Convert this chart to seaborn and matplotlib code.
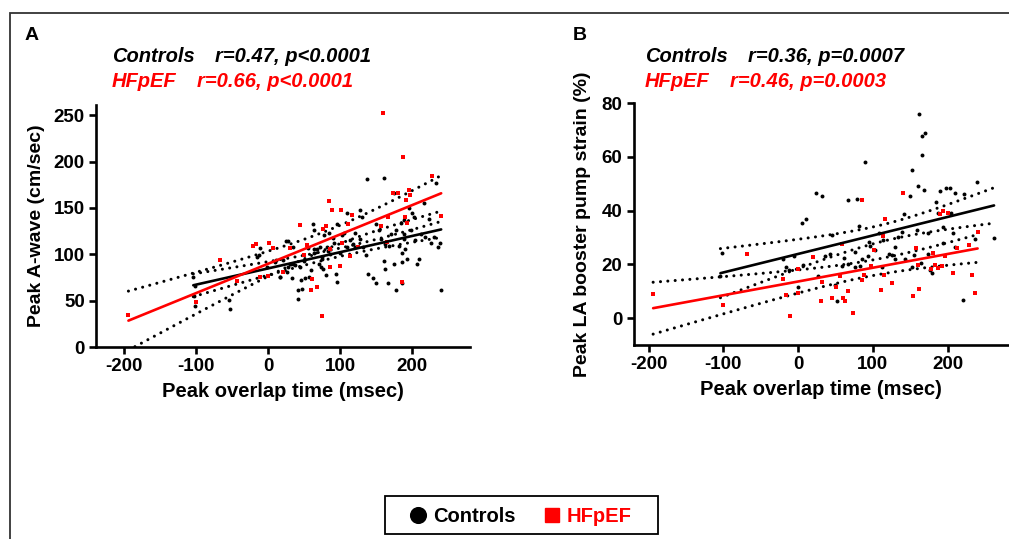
import numpy as np
import pandas as pd
import matplotlib
matplotlib.use("Agg")
import matplotlib.pyplot as plt
import seaborn as sns
from matplotlib.lines import Line2D
from matplotlib.patches import Rectangle

# ---------------- data ----------------
groups = ["Controls", "HFpEF"]
colors = {"Controls": "#000000", "HFpEF": "#FF0000"}

# Panel A: Peak A-wave (cm/sec) vs peak overlap time (msec)
ctrl_a_x = [-104, -103, -54, -16, -12, -2, 11, 25, 28, 27, 35, 35, 41, 44, 46, 49, 60, 62, 63, 64,
            70, 72, 75, 78, 83, 85, 90, 94, 96, 99, 105, 110, 117, 121, 128, 131, 137, 136,
            149, 154, 157, 160, 161, 162, 168, 170, 177, 181, 184, 186, 188, 189, 190, 193, 195, 198,
            202, 204, 206, 209, 212, 216, 218, 223, 226, 230, 233, 236, 239, 240, 174, 188, 199,
            63, 21, 30, 37, 55, 68, 74, 81, 86, 91, 102, 109, 114, 121, 128, 130, 139, 17, 26, 33,
            51, 56, 42, 47, 80, 95, 73, 76, -102, -102, -53, -13, 16, 9,
            177, 185, 166, 150, 146, 162, 185, 174]
ctrl_a_y = [76, 55, 51, 97, 107, 86, 94, 114, 114, 86, 108, 90, 62, 86, 72, 93, 83, 133, 101, 106,
            90, 108, 97, 121, 104, 123, 118, 79, 133, 101, 123, 144, 111, 123, 148, 108, 181, 99,
            133, 126, 117, 182, 93, 111, 109, 122, 126, 109, 134, 101, 122, 116, 106, 95, 150, 126,
            140, 115, 90, 95, 122, 155, 119, 138, 112, 119, 177, 108, 112, 61, 166, 137, 145,
            126, 94, 90, 88, 107, 106, 95, 108, 100, 112, 121, 108, 115, 108, 117, 140, 79, 76, 81, 74,
            74, 76, 52, 63, 78, 70, 86, 84, 44, 66, 41, 99, 75, 92,
            62, 69, 69, 69, 74, 84, 92, 89]
hf_a_x = [-194, -100, -67, -44, -21, -17, -11, 0, 1, 7, 20, 30, 44, 50, 54, 59, 61, 67, 74, 76,
          80, 85, 86, 88, 86, 99, 101, 103, 111, 114, 116, 125, 159, 157, 165, 166, 173, 180, 186,
          187, 190, 191, 193, 195, 197, 227, 240]
hf_a_y = [34, 48, 94, 71, 109, 111, 75, 77, 112, 107, 81, 107, 132, 99, 110, 61, 73, 65, 33, 127,
          131, 158, 86, 148, 106, 87, 148, 112, 133, 98, 142, 108, 252, 130, 113, 140, 166, 166, 70,
          205, 140, 159, 134, 169, 164, 184, 141]

# Panel B: Peak LA booster pump strain (%) vs peak overlap time (msec)
ctrl_b_x = [-102, -104, -20, -16, -6, 0, 5, 11, 24, 32, 27, 36, 43, 45, 52, 67, 79, 81, 89,
            95, 96, 86, 83, 108, 114, 130, 142, 150, 152, 159, 160, 162, 165, 166, 170, 168, 174,
            176, 179, 185, 187, 190, 194, 198, 203, 204, 207, 210, 210, 220, 222, 239, 236, 262,
            194, 155, 139, 125, 112, 76, 67, 58, 49, 6, -12, 164, 174,
            152, 143, 134, 129, 121, 103, 94, 76, 61]
ctrl_b_y = [24.2, 15.5, 22.0, 19.0, 23.2, 11.5, 35.3, 37.0, 46.7, 45.5, 15.5, 23.0, 24.0, 30.9,
            6.2, 44.0, 44.3, 34.3, 58.0, 28.4, 26.9, 22.0, 19.5, 31.6, 29.0, 26.6, 38.8, 45.5, 55.2,
            32.9, 49.0, 75.8, 60.6, 67.6, 68.8, 47.5, 31.6, 18.0, 16.7, 43.0, 39.0, 47.1, 34.0, 48.4,
            48.4, 39.0, 31.6, 26.6, 46.5, 6.8, 46.3, 50.5, 29.6, 29.9,
            28.0, 23.5, 32.0, 23.5, 19.0, 19.0, 20.0, 19.3, 12.4, 19.9, 18.0,
            20.5, 24.0, 19.0, 22.0, 30.0, 22.0, 24.0, 25.5, 23.0, 24.5, 22.5]
hf_b_x = [-194, -100, -68, -20, -16, -11, 0, 0, 20, 30, 32, 45, 51, 56, 58, 60, 62, 67, 74, 85,
          86, 88, 98, 102, 111, 114, 115, 116, 125, 140, 154, 158, 160, 162, 177, 181, 183, 187,
          190, 192, 194, 197, 201, 207, 212, 228, 232, 236, 240]
hf_b_y = [8.8, 4.8, 23.7, 14.5, 8.5, 0.9, 18.2, 9.5, 22.7, 6.3, 13.6, 7.6, 11.5, 15.5, 27.5, 7.5,
          6.2, 10.2, 1.9, 14.2, 44.0, 16.0, 19.2, 25.2, 10.3, 30.4, 16.0, 36.8, 13.0, 46.5, 8.3, 26.0,
          19.7, 10.8, 18.2, 24.2, 19.8, 18.7, 38.7, 19.2, 40.0, 23.1, 39.0, 16.7, 26.0, 27.3, 16.1,
          9.3, 32.0]

# ---------------- figure ----------------
W, H = 1009, 539
FONT = "Liberation Sans"
sns.set_style("white")
plt.rcParams["font.family"] = [FONT, "DejaVu Sans"]
plt.rcParams["font.weight"] = "bold"
plt.rcParams["axes.unicode_minus"] = False
fig = plt.figure(figsize=(W / 100, H / 100), dpi=100)


def px(x, y):
    return x / W, 1 - y / H


def make_df(cx, cy, hx, hy):
    return pd.concat([
        pd.DataFrame({"x": cx, "y": cy, "group": "Controls"}),
        pd.DataFrame({"x": hx, "y": hy, "group": "HFpEF"}),
    ], ignore_index=True)


def fit_frame(x, y, n_pts=60):
    x = np.asarray(x, float)
    y = np.asarray(y, float)
    n = len(x)
    b, a = np.polyfit(x, y, 1)
    resid = y - (a + b * x)
    s = np.sqrt(np.sum(resid ** 2) / (n - 2))
    sxx = np.sum((x - x.mean()) ** 2)
    t = 1.96 + 2.4 / (n - 2)
    xs = np.linspace(x.min(), x.max(), n_pts)
    yh = a + b * xs
    se = s * np.sqrt(1.0 / n + (xs - x.mean()) ** 2 / sxx)
    return pd.DataFrame({"x": xs, "fit": yh, "lo": yh - t * se, "hi": yh + t * se})


def panel(rect, df, xlim, ylim, yticks, ylabel, ylabelpad):
    ax = fig.add_axes(rect)
    for g in groups:
        sub = df[df.group == g]
        ff = fit_frame(sub.x, sub.y)
        for col in ("lo", "hi"):
            sns.lineplot(data=ff, x="x", y=col, ax=ax, color="black", lw=2.2,
                         linestyle=(0, (0.01, 2.4)), dash_capstyle="round",
                         estimator=None, sort=False, zorder=2)
    sns.scatterplot(data=df[df.group == "Controls"], x="x", y="y", ax=ax, color="black",
                    marker="o", s=8, linewidth=0, zorder=3, legend=False)
    sns.scatterplot(data=df[df.group == "HFpEF"], x="x", y="y", ax=ax, color="#FF0000",
                    marker="s", s=10, linewidth=0, zorder=4, legend=False)
    for g in groups:
        sub = df[df.group == g]
        ff = fit_frame(sub.x, sub.y)
        sns.lineplot(data=ff, x="x", y="fit", ax=ax, color=colors[g], lw=1.9,
                     estimator=None, sort=False, zorder=5)
    ax.set_xlim(*xlim)
    ax.set_ylim(*ylim)
    ax.set_xticks([-200, -100, 0, 100, 200])
    ax.set_yticks(yticks)
    for sp in ("top", "right"):
        ax.spines[sp].set_visible(False)
    for sp in ("left", "bottom"):
        ax.spines[sp].set_linewidth(1.9)
        ax.spines[sp].set_color("black")
    ax.tick_params(bottom=True, left=True, width=1.9, length=5, labelsize=13.5, pad=3,
                   color="black", labelcolor="black")
    for lab in ax.get_xticklabels() + ax.get_yticklabels():
        lab.set_fontweight("bold")
    ax.set_xlabel("Peak overlap time (msec)", fontsize=14.5, fontweight="bold", labelpad=5,
                  color="black")
    ax.set_ylabel(ylabel, fontsize=14, fontweight="bold", labelpad=ylabelpad, color="black")
    ax.set_facecolor("none")
    return ax


dfa = make_df(ctrl_a_x, ctrl_a_y, hf_a_x, hf_a_y)
dfb = make_df(ctrl_b_x, ctrl_b_y, hf_b_x, hf_b_y)

l, b = px(96, 347)
r, t = px(470, 105)
axA = panel([l, b, r - l, t - b], dfa, (-239, 280), (0, 261), [0, 50, 100, 150, 200, 250],
            "Peak A-wave (cm/sec)", 6)

l, b = px(633.7, 345)
r, t = px(1009, 103)
axB = panel([l, b, r - l, t - b], dfb, (-220, 282), (-10, 80), [0, 20, 40, 60, 80],
            "Peak LA booster pump strain (%)", 8)


def ftext(x, y, s, color="black", size=14.5, style="italic"):
    fx, fy = px(x, y)
    fig.text(fx, fy, s, color=color, fontsize=size, fontweight="bold", fontstyle=style,
             ha="left", va="baseline")


ftext(25, 40, "A", size=14, style="normal")
ftext(573, 40, "B", size=14, style="normal")
ftext(112, 62, "Controls")
ftext(215, 62, "r=0.47, p<0.0001")
ftext(112, 87, "HFpEF", color="#FF0000")
ftext(197, 87, "r=0.66, p<0.0001", color="#FF0000")
ftext(645, 62, "Controls")
ftext(748, 62, "r=0.36, p=0.0007")
ftext(645, 87, "HFpEF", color="#FF0000")
ftext(730, 87, "r=0.46, p=0.0003", color="#FF0000")

# outer frame
x0, y0 = px(10, 13)
fig.patches.append(Rectangle((x0, -0.2), 1.2, y0 + 0.2, transform=fig.transFigure,
                             fill=False, edgecolor="#333333", linewidth=1.3, zorder=0))

# legend box (drawn by hand to match placement)
lx0, ly0 = px(385, 534)
lx1, ly1 = px(658, 496)
fig.patches.append(Rectangle((lx0, ly0), lx1 - lx0, ly1 - ly0, transform=fig.transFigure,
                             fill=True, facecolor="white", edgecolor="black", linewidth=1.3,
                             zorder=1))
mx, my = px(418, 514.5)
fig.add_artist(Line2D([mx], [my], marker="o", color="black", markersize=11.3,
                      linestyle="none", transform=fig.transFigure, zorder=3))
mx, my = px(552, 514.5)
fig.add_artist(Line2D([mx], [my], marker="s", color="#FF0000", markersize=10.3,
                      linestyle="none", transform=fig.transFigure, zorder=3))
ftext(433, 522.5, groups[0], size=14.5, style="normal")
ftext(567, 522.5, groups[1], color="#FF0000", size=14.5, style="normal")

fig.savefig("out.png", dpi=100)
